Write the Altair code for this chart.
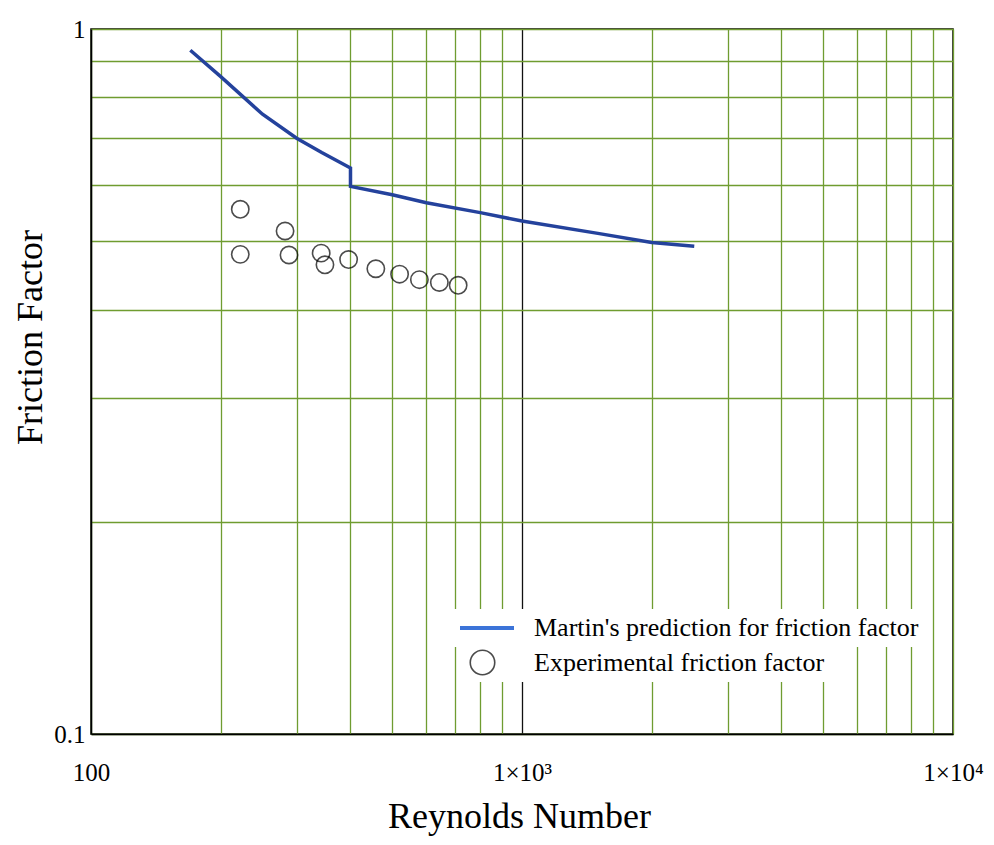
import altair as alt
import pandas as pd

# Martin's prediction (model curve)
re_model = [170, 200, 250, 300, 343, 400, 400, 500, 600, 800, 1000, 1500, 2000, 2510]
f_model = [0.933, 0.856, 0.757, 0.700, 0.668, 0.635, 0.598, 0.582, 0.567, 0.549, 0.534, 0.513, 0.498, 0.492]

# Experimental friction factor points
re_exp = [222, 222, 282, 288, 342, 349, 396, 458, 520, 578, 643, 711]
f_exp = [0.555, 0.479, 0.517, 0.478, 0.481, 0.463, 0.471, 0.457, 0.449, 0.441, 0.437, 0.433]

x_ticks = [100, 200, 300, 400, 500, 600, 700, 800, 900,
           1000, 2000, 3000, 4000, 5000, 6000, 7000, 8000, 9000, 10000]
y_ticks = [0.1, 0.2, 0.3, 0.4, 0.5, 0.6, 0.7, 0.8, 0.9, 1.0]

model_name = "Martin's prediction for friction factor"
exp_name = "Experimental friction factor"

FONT = "Liberation Serif"
GREEN = "#6f9c30"
NAVY = "#24429c"
LEGEND_BLUE = "#3b73d8"
NBSP = "\u00a0"

model_df = pd.DataFrame({"Re": re_model, "f": f_model, "idx": list(range(len(re_model))),
                         "model": [model_name] * len(re_model)})
exp_df = pd.DataFrame({"Re": re_exp, "f": f_exp, "kind": [exp_name] * len(re_exp)})

xaxis = alt.Axis(
    values=x_ticks,
    labelExpr="datum.value == 100 ? '100' : datum.value == 1000 ? '1×10³' : datum.value == 10000 ? '1×10⁴' : ''",
    grid=True, gridColor={"condition": {"test": "datum.value == 1000", "value": "#111111"}, "value": GREEN},
    gridWidth=1.3, gridOpacity=1,
    ticks=False, tickSize=0,
    domain=True, domainColor="black", domainWidth=1.5,
    labelFont=FONT, labelFontSize=25, labelColor="black", labelPadding=26,
    labelFlush=False, labelOverlap=False, labelBound=False,
    title="Reynolds Number", titleFont=FONT, titleFontSize=36, titleFontWeight="normal",
    titleColor="black", titleX=428, titleY=93, titleBaseline="alphabetic", titleAlign="center",
)
yaxis = alt.Axis(
    values=y_ticks,
    labelExpr="datum.value == 1 ? '1' : abs(datum.value - 0.1) < 1e-9 ? '0.1' : ''",
    grid=True, gridColor=GREEN, gridWidth=1.3, gridOpacity=1,
    ticks=False, tickSize=0,
    domain=True, domainColor="black", domainWidth=1.5,
    labelFont=FONT, labelFontSize=25, labelColor="black", labelPadding=6,
    labelFlush=False, labelOverlap=False, labelBound=False,
    title="Friction Factor", titleFont=FONT, titleFontSize=36, titleFontWeight="normal",
    titleColor="black", titleAngle=270, titleX=-61, titleY=308, titleBaseline="middle", titleAlign="center",
)

xs = alt.Scale(type="log", domain=[100, 10000], nice=False)
ys = alt.Scale(type="log", domain=[0.1, 1], nice=False)

X = alt.X("Re:Q", scale=xs, axis=xaxis)
Y = alt.Y("f:Q", scale=ys, axis=yaxis)

line = alt.Chart(model_df).mark_line(color=NAVY, strokeWidth=3.5).encode(
    x=X, y=Y, order=alt.Order("idx:Q")
)

legend_carrier = alt.Chart(model_df).mark_point(opacity=0).encode(
    x=X, y=Y,
    stroke=alt.Stroke("model:N", scale=alt.Scale(domain=[model_name], range=[LEGEND_BLUE]),
                      legend=alt.Legend(orient="none", legendX=363, legendY=580, title=None,
                                        symbolType="stroke", symbolSize=2916, symbolStrokeWidth=4,
                                        symbolOpacity=1, clipHeight=30,
                                        labelFont=FONT, labelFontSize=26,
                                        labelColor="black", labelOffset=18, labelBaseline="middle",
                                        labelExpr="datum.label + '" + NBSP * 4 + "'",
                                        labelLimit=1000, fillColor="white", padding=4)),
)

points = alt.Chart(exp_df).mark_point(filled=False, color="black", size=300, strokeWidth=1.6).encode(
    x=X, y=Y,
    shape=alt.Shape("kind:N", scale=alt.Scale(domain=[exp_name], range=["circle"]),
                    legend=alt.Legend(orient="none", legendX=374, legendY=616, title=None,
                                      symbolSize=600, symbolStrokeWidth=1.6, symbolStrokeColor="black",
                                      labelFont=FONT, labelFontSize=26, labelColor="black",
                                      labelOffset=38, labelBaseline="middle", labelLimit=1000,
                                      labelExpr="datum.label + '" + NBSP * 19 + "'",
                                      fillColor="white", padding=4)),
)

chart = alt.layer(line, legend_carrier, points).properties(
    width=862, height=705,
    autosize=alt.AutoSizeParams(type="none"),
    padding={"left": 83, "top": 21, "right": 33, "bottom": 103},
    background="white",
).resolve_legend(stroke="independent", shape="independent").configure_view(
    stroke="black", strokeWidth=1.5
)

chart.save("out.html", embed_options={"renderer": "svg", "actions": False})
